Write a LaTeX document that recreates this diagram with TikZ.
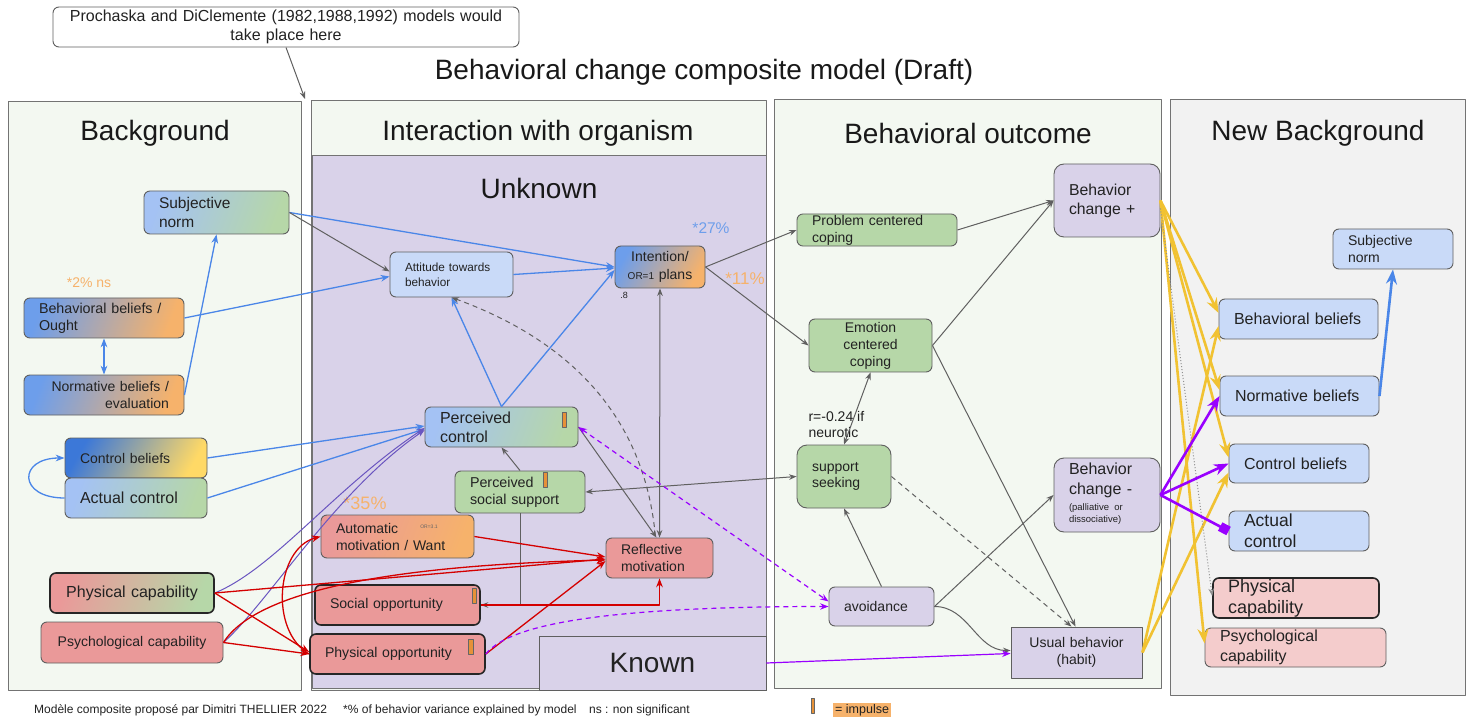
\documentclass[tikz,border=0pt]{standalone}
\usepackage{fontspec}
\setmainfont{Liberation Sans}
\usetikzlibrary{arrows.meta}

\definecolor{panelgreen}{HTML}{F3F8F1}
\definecolor{panelgray}{HTML}{F2F2F2}
\definecolor{lavender}{HTML}{D9D2E9}
\definecolor{paleblue}{HTML}{C9DAF8}
\definecolor{midblue}{HTML}{A4C2F4}
\definecolor{cornblue}{HTML}{6D9EEB}
\definecolor{deepblue}{HTML}{3C78D8}
\definecolor{sage}{HTML}{B6D7A8}
\definecolor{salmon}{HTML}{EA9999}
\definecolor{blush}{HTML}{F4CCCC}
\definecolor{apricot}{HTML}{F6B26B}
\definecolor{butter}{HTML}{FFD966}
\definecolor{edgegray}{HTML}{5F5F5F}
\definecolor{linkblue}{HTML}{4A86E8}
\definecolor{linkred}{HTML}{D40000}
\definecolor{linkviolet}{HTML}{9900FF}
\definecolor{linkindigo}{HTML}{6A55C0}
\definecolor{linkgold}{HTML}{F1C232}
\definecolor{linkgray}{HTML}{606060}
\definecolor{impulseorange}{HTML}{E69138}
\definecolor{inkdark}{HTML}{222222}

\newcommand{\fsz}[2]{\fontsize{#1}{#2}\selectfont}

\tikzset{
  panel/.style={draw=black!55, line width=1pt},
  box/.style={draw=edgegray, line width=0.9pt, rounded corners=6pt, inner xsep=15pt, inner ysep=1pt, align=left, text=inkdark},
  heavybox/.style={box, draw=black!85, line width=1.6pt},
  plainbox/.style={draw=edgegray, line width=0.9pt, fill=lavender, text=inkdark},
  paneltitle/.style={font=\fsz{28}{32}, text=black!90},
  graylink/.style={draw=linkgray, line width=1pt, ->},
  bluelink/.style={draw=linkblue, line width=1.3pt, ->},
  redlink/.style={draw=linkred, line width=1.3pt, ->},
  indigolink/.style={draw=linkindigo, line width=1pt, ->},
  violetlink/.style={draw=linkviolet, line width=1.2pt, ->},
  violetthick/.style={draw=linkviolet, line width=2.6pt, ->},
  goldlink/.style={draw=linkgold, line width=2.6pt, ->},
  longdash/.style={dash pattern=on 5pt off 4pt},
  impulse/.style={fill=impulseorange, draw=black!60, line width=0.6pt},
}

\begin{document}
\begin{tikzpicture}[x=1pt, y=1pt, >=Stealth, line join=round]
  \useasboundingbox (0,0) rectangle (1473,-719);
  \fill[white] (0,0) rectangle (1473,-719);

  % panels
  \draw[panel, fill=panelgreen] (8,-102) rectangle (301,-690);
  \draw[panel, fill=panelgreen] (311,-101) rectangle (766,-690);
  \draw[panel, fill=lavender] (312,-156) rectangle (766,-688);
  \draw[panel, fill=panelgreen] (774,-100) rectangle (1161,-688);
  \draw[panel, fill=panelgray] (1170,-100) rectangle (1465,-695);

  \node[paneltitle] (maintitle) at (704,-72) {Behavioral change composite model (Draft)};
  \node[paneltitle] (bgtitle) at (155,-133) {Background};
  \node[paneltitle] (intitle) at (538,-133) {Interaction with organism};
  \node[paneltitle] (outtitle) at (968,-133) {Behavioral outcome};
  \node[paneltitle] (nbgtitle) at (1318,-133) {New Background};
  \node[paneltitle] (unknown) at (539,-188) {Unknown};
  \node[plainbox, minimum width=227pt, minimum height=54pt, inner sep=0pt, font=\fsz{28}{32}] (known) at (652.5,-663) {Known};

  % note on the stages of change
  \node[box, fill=white, align=center, inner xsep=8pt, text width=450pt, minimum height=40pt, font=\fsz{16}{19}] (note) at (286,-27) {Prochaska and DiClemente (1982,1988,1992) models would\\take place here};
  \coordinate (gap) at (305,-99);

  % Background
  \node[box, text width=115pt, minimum height=43pt, left color=midblue, right color=sage, shading angle=70, font=\fsz{15.5}{19}] (subj) at (216.5,-212.5) {Subjective\\norm};
  \node[box, text width=130pt, minimum height=40pt, left color=cornblue, right color=apricot, shading angle=70, font=\fsz{14.3}{17}] (bb) at (104,-318) {Behavioral beliefs /\\Ought};
  \node[box, align=right, text width=130pt, minimum height=40pt, left color=cornblue, right color=apricot, shading angle=70, font=\fsz{14}{16.5}] (nb) at (104,-395) {Normative beliefs /\\evaluation};
  \node[box, text width=112pt, minimum height=40pt, left color=deepblue, right color=butter, shading angle=60, font=\fsz{14}{17}] (cb) at (136,-458) {Control beliefs};
  \node[box, text width=112pt, minimum height=40pt, left color=midblue, right color=sage, shading angle=70, font=\fsz{16}{19}] (ac) at (136,-498) {Actual control};
  \node[heavybox, align=center, inner xsep=10pt, text width=144pt, minimum height=40pt, left color=salmon, right color=sage, shading angle=70, font=\fsz{16}{19}] (pcap) at (132,-593) {Physical capability};
  \node[box, align=center, inner xsep=10pt, text width=162pt, minimum height=41pt, fill=salmon, font=\fsz{14}{17}] (psy) at (132,-642.5) {Psychological capability};
  \node[font=\fsz{14}{16}, text=apricot] (bbpct) at (89,-283) {*2\% ns};

  % Interaction with organism
  \node[box, text width=93pt, minimum height=45pt, fill=paleblue, font=\fsz{11.8}{15}] (att) at (451.5,-274.5) {Attitude towards\\behavior};
  \node[box, align=center, inner xsep=5pt, text width=80pt, minimum height=42pt, left color=cornblue, right color=apricot, shading angle=60, font=\fsz{14}{18}] (int) at (660,-267) {Intention/\\{\fsz{10}{12}OR=1} plans};
  \node[font=\fsz{9}{10}, text=inkdark] (intor) at (624,-295) {.8};
  \node[font=\fsz{15.5}{17}, text=cornblue] (intpct) at (711,-228) {*27\%};
  \node[font=\fsz{17}{19}, text=apricot] (outpct) at (745,-279) {*11\%};
  \node[box, text width=123pt, minimum height=40pt, left color=midblue, right color=sage, shading angle=70, font=\fsz{16}{19}] (pc) at (501.5,-427) {Perceived\\control};
  \node[box, text width=100pt, minimum height=42pt, fill=sage, font=\fsz{14.3}{17}] (pss) at (520,-492) {Perceived\\social support};
  \node[font=\fsz{18}{20}, text=apricot] (ampct) at (365,-503) {*35\%};
  \node[box, text width=123pt, minimum height=43pt, left color=salmon, right color=apricot, shading angle=70, font=\fsz{14}{17}] (am) at (397.5,-536.5) {Automatic\\motivation / Want};
  \node[font=\fsz{5}{6}, text=inkdark!70] (amor) at (429,-527) {OR=3.1};
  \node[box, text width=77pt, minimum height=40pt, fill=salmon, font=\fsz{14}{16.5}] (rm) at (659.5,-558) {Reflective\\motivation};
  \node[heavybox, text width=135pt, minimum height=40pt, fill=salmon, font=\fsz{14.1}{17}] (so) at (397.5,-605) {Social opportunity};
  \node[heavybox, text width=145pt, minimum height=40pt, fill=salmon, font=\fsz{14.1}{17}] (po) at (397.5,-654) {Physical opportunity};
  \draw[impulse] (562,-412) rectangle (566,-427);
  \draw[impulse] (543,-472) rectangle (547,-487);
  \draw[impulse] (472,-588) rectangle (476,-603);
  \draw[impulse] (468,-639) rectangle (473,-654);

  % Behavioral outcome
  \node[box, text width=130pt, minimum height=32pt, fill=sage, font=\fsz{14}{17}] (pcc) at (877,-230) {Problem centered\\coping};
  \node[box, align=center, text width=93pt, minimum height=53pt, fill=sage, font=\fsz{14}{17}] (ecc) at (870.5,-345.5) {Emotion\\centered\\coping};
  \node[anchor=west, align=left, font=\fsz{14}{16}, text=inkdark] (rlabel) at (805,-424) {r=-0.24 if\\neurotic};
  \node[box, rounded corners=10pt, text width=64pt, minimum height=63pt, fill=sage, font=\fsz{14}{16.5}] (ss) at (844,-476.5) {support\\seeking};
  \node[box, text width=75pt, minimum height=39pt, fill=lavender, font=\fsz{14}{17}] (av) at (881.5,-606.5) {avoidance};
  \node[box, rounded corners=10pt, text width=76pt, minimum height=73pt, fill=lavender, font=\fsz{15.8}{19}] (bcp) at (1107,-200.5) {Behavior\\change +};
  \node[box, rounded corners=10pt, text width=76pt, minimum height=74pt, fill=lavender, font=\fsz{16}{20}] (bcm) at (1107,-495) {Behavior\\change -\\[-4pt]{\fsz{9.5}{12}\begin{tabular}[t]{@{}l@{}}(palliative or\\dissociative)\end{tabular}}};
  \node[plainbox, align=center, inner xsep=10pt, text width=111pt, minimum height=51pt, font=\fsz{14}{16.5}] (ub) at (1076.5,-652.5) {Usual behavior\\(habit)};

  % New Background
  \node[box, text width=90pt, minimum height=40pt, fill=paleblue, font=\fsz{14}{17}] (nsub) at (1393,-249) {Subjective\\norm};
  \node[box, text width=129pt, minimum height=40pt, fill=paleblue, font=\fsz{16}{19}] (nbb) at (1298.5,-319) {Behavioral beliefs};
  \node[box, text width=129pt, minimum height=40pt, fill=paleblue, font=\fsz{16}{19}] (nnb) at (1299.5,-396) {Normative beliefs};
  \node[box, text width=110pt, minimum height=39pt, fill=paleblue, font=\fsz{16}{19}] (ncb) at (1299,-463.5) {Control beliefs};
  \node[box, text width=110pt, minimum height=40pt, fill=paleblue, font=\fsz{17.5}{21}] (nac) at (1299,-531) {Actual\\control};
  \node[heavybox, text width=136pt, minimum height=40pt, fill=blush, font=\fsz{18}{21}] (npc) at (1296,-598) {Physical\\capability};
  \node[box, text width=151pt, minimum height=39pt, fill=blush, font=\fsz{16}{20}] (npsy) at (1295.5,-647.5) {Psychological\\capability};

  % footer
  \node[anchor=west, inner sep=0pt, font=\fsz{12}{14}, text=inkdark] (credit) at (34,-710) {Modèle composite proposé par Dimitri THELLIER 2022};
  \node[anchor=west, inner sep=0pt, font=\fsz{12}{14}, text=inkdark] (varnote) at (343,-710) {*\% of behavior variance explained by model};
  \node[anchor=west, inner sep=0pt, font=\fsz{12}{14}, text=inkdark] (nsnote) at (589,-710) {ns : non significant};
  \draw[impulse] (811,-698) rectangle (814,-713);
  \node[anchor=west, fill=apricot, inner xsep=2pt, inner ysep=1.5pt, font=\fsz{12.5}{14}, text=inkdark] (legend) at (833,-710) {= impulse};

  % connectors: background
  \draw[graylink] (note.south) -- (gap);
  \draw[bluelink] (subj.east) -- (int.west);
  \draw[graylink] (subj.east) -- ([yshift=3pt]att.west);
  \draw[bluelink] (bb.east) -- ([yshift=-2pt]att.west);
  \draw[bluelink] (nb.east) -- (subj.south);
  \draw[bluelink, <->] (bb.south) -- (nb.north);
  \draw[bluelink] (cb.east) -- ([yshift=1pt]pc.west);
  \draw[bluelink] (ac.east) -- ([yshift=-2pt]pc.west);
  \draw[bluelink] (ac.west) to[out=180, in=180, looseness=3] (cb.west);
  \draw[indigolink] (pcap.east) .. controls +(60,25) and +(-90,-60) .. ([yshift=-1pt]pc.west);
  \draw[indigolink] (psy.east) .. controls +(45,40) and +(-90,-62) .. ([yshift=-3pt]pc.west);

  % connectors: organism
  \draw[bluelink] (att.east) -- ([yshift=-1pt]int.west);
  \draw[bluelink] (pc.north) -- (att.south);
  \draw[bluelink] (pc.north) -- ([yshift=-3pt]int.west);
  \draw[graylink] (pss.north) -- (pc.south);
  \draw[graylink] (pc.east) -- ([xshift=-3pt]rm.north);
  \draw[graylink, <->] (rm.north) -- (int.south);
  \draw[graylink, longdash, <-] (att.south) to[out=-20, in=95] ([xshift=-4pt]rm.north);
  \draw[graylink] (pss.south) |- (so.east);
  \draw[redlink] (so.east) -| (rm.south);
  \draw[redlink] (am.east) -- ([yshift=1pt]rm.west);
  \draw[redlink] (pcap.east) -- ([yshift=-1pt]rm.west);
  \draw[redlink] (psy.east) .. controls +(35,55) and +(-200,-5) .. ([yshift=-2pt]rm.west);
  \draw[redlink] (pcap.east) -- ([yshift=2pt]po.west);
  \draw[redlink] (psy.east) -- (po.west);
  \draw[redlink] (po.west) to[out=150, in=195] (am.west);
  \draw[redlink] (po.east) -- ([yshift=-3pt]rm.west);

  % connectors: outcome
  \draw[graylink] (int.east) -- (pcc.west);
  \draw[graylink] (int.east) -- (ecc.west);
  \draw[graylink] (pcc.east) -- (bcp.west);
  \draw[graylink] (ecc.east) -- (bcp.west);
  \draw[graylink] (ecc.east) -- ([xshift=-1pt]ub.north);
  \draw[graylink, <->] (ss.north) -- (ecc.south);
  \draw[graylink, <->] (ss.west) -- (pss.east);
  \draw[graylink, longdash] (ss.east) -- ([xshift=-5pt]ub.north);
  \draw[graylink] (av.north) -- (ss.south);
  \draw[graylink] (av.east) -- (bcm.west);
  \draw[graylink] (av.east) to[out=0, in=180] ([yshift=2pt]ub.west);
  \draw[violetlink, longdash, <->] (pc.east) -- ([yshift=5pt]av.west);
  \draw[violetlink, longdash] (po.east) .. controls +(20,25) and +(-250,0) .. (av.west);
  \draw[violetlink] (known.east) -- ([yshift=-1pt]ub.west);

  % connectors: new background
  \draw[goldlink] (bcp.east) -- ([yshift=6pt]nbb.west);
  \draw[goldlink] (bcp.east) -- ([yshift=6pt]nnb.west);
  \draw[goldlink] (bcp.east) -- ([yshift=6pt]ncb.west);
  \draw[goldlink] (bcp.east) -- ([yshift=4pt]npsy.west);
  \draw[goldlink] (ub.east) -- ([yshift=-7pt]nbb.west);
  \draw[goldlink] (ub.east) -- ([yshift=-9pt]ncb.west);
  \draw[draw=linkgray!70, line width=1pt, dotted, ->] ([yshift=-8pt]bcp.east) -- ([yshift=2pt]npc.west);
  \draw[violetthick] (bcm.east) -- (nnb.west);
  \draw[violetthick] (bcm.east) -- (ncb.west);
  \draw[violetthick, -{Square}] (bcm.east) -- (nac.west);
  \draw[bluelink, line width=2.6pt] (nnb.east) -- (nsub.south);
\end{tikzpicture}
\end{document}
